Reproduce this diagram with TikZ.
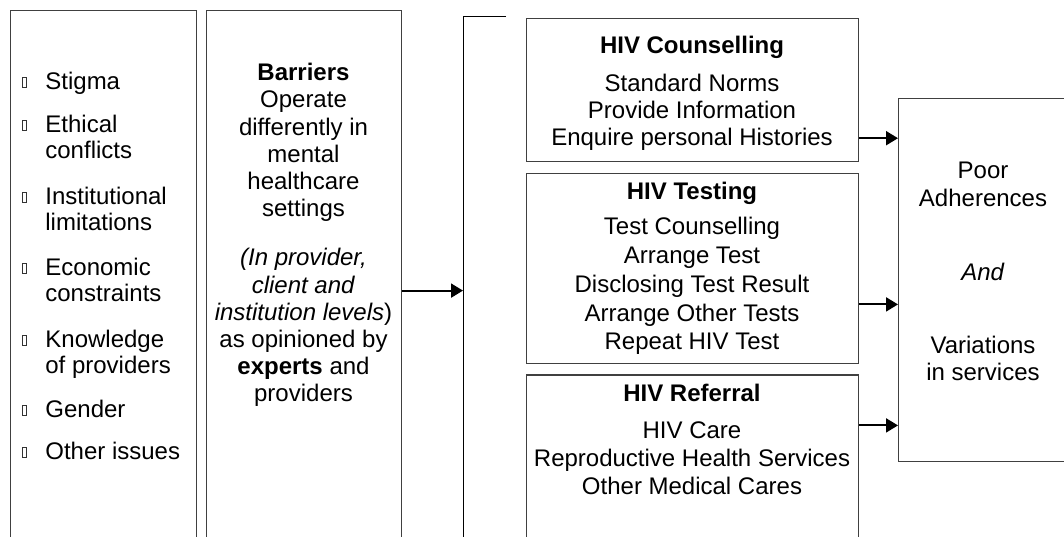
\documentclass[tikz,border=0pt]{standalone}
\usepackage{fontspec}
\setmainfont{Liberation Sans}
\usetikzlibrary{arrows.meta}
\usetikzlibrary{positioning}
\tikzset{>={Triangle[length=6pt,width=7pt]}}
\tikzstyle{box}=[
  draw=black!75,
  line width=0.6pt,
  rectangle,
  anchor=north west,
  inner sep=0pt
]
\tikzstyle{txt}=[align=center,inner sep=0pt,anchor=north,font=\fontsize{12}{13.6}\selectfont]
\tikzstyle{title}=[txt,font=\bfseries\fontsize{12}{13.6}\selectfont]
\tikzstyle{item}=[align=left,inner sep=0pt,anchor=north west,font=\fontsize{12}{12.8}\selectfont]
\tikzstyle{blt}=[draw=black!80,line width=0.4pt,minimum width=2pt,minimum height=5pt,inner sep=0pt]
\tikzstyle{flow}=[->,line width=1pt]

\begin{document}
\begin{tikzpicture}[x=0.5pt,y=-0.5pt]
    \useasboundingbox (0,0) rectangle (1064,536);
    \clip (0,0) rectangle (1064,536);

    % list of issues
    \node[box,minimum width=93pt,minimum height=275pt] (issues) at (10,10) {};
    \foreach \y/\t [count=\i] in {72/Stigma, 115/{Ethical\\conflicts},
        187/{Institutional\\limitations}, 258/{Economic\\constraints},
        330/{Knowledge\\of providers}, 400/Gender, 442/Other issues}{
      \node[item] (it\i) at (45,\y) {\t};
      \node[blt] (bl\i) at (24.7,\y+10) {};
    }

    % barriers
    \node[box,minimum width=97.5pt,minimum height=280pt] (barrier) at (206,10) {};
    \node[txt] (btext) at (303.5,63) {\textbf{Barriers}\\Operate\\differently in\\mental\\healthcare\\settings\\[11pt]
      \textit{(In provider,}\\\textit{client and}\\\textit{institution levels})\\as opinioned by\\\textbf{experts} and\\providers};

    \coordinate (brk) at (463,16);
    \draw[line width=0.5pt] (506,16) -- (brk) -- (463,560);
    \draw[flow] (barrier.east) -- (barrier.east -| brk);

    % services
    \node[box,minimum width=166pt,minimum height=71.5pt] (couns) at (526,18) {};
    \node[box,minimum width=166pt,minimum height=95pt,below=5.5pt of couns] (test) {};
    \node[box,minimum width=166pt,minimum height=94pt,below=5pt of test] (refer) {};

    \node[title] (chead) at (692,36) {HIV Counselling};
    \node[txt,font=\fontsize{12}{13.5}\selectfont] (cbody) at (692,74) {Standard Norms\\Provide Information\\Enquire personal Histories};
    \node[title] (thead) at (692,182) {HIV Testing};
    \node[txt,font=\fontsize{12}{14.4}\selectfont] (tbody) at (692,217) {Test Counselling\\Arrange Test\\Disclosing Test Result\\Arrange Other Tests\\Repeat HIV Test};
    \node[title] (rhead) at (692,384) {HIV Referral};
    \node[txt,font=\fontsize{12}{14}\selectfont] (rbody) at (692,421) {HIV Care\\Reproductive Health Services\\Other Medical Cares};

    % outcome
    \node[box,minimum width=85pt,minimum height=181.5pt] (outc) at (898,98) {};
    \node[txt] (otext) at (983,162) {Poor\\Adherences\\[23.5pt]\textit{And}\\[23pt]Variations\\in services};

    \coordinate (a1) at ([yshift=12pt]couns.south east);
    \coordinate (a2) at ([yshift=30pt]test.south east);
    \coordinate (a3) at ([yshift=-25.5pt]refer.north east);
    \foreach \a in {a1,a2,a3}
      \draw[flow] (\a) -- (\a -| outc.west);
\end{tikzpicture}
\end{document}
